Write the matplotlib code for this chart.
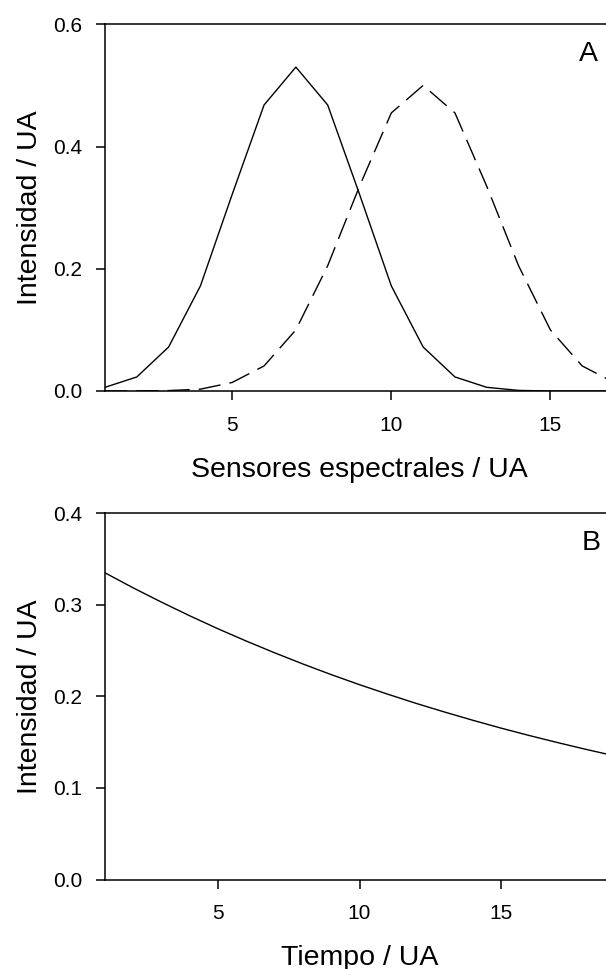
import matplotlib
matplotlib.use("Agg")
import matplotlib.pyplot as plt
from matplotlib.ticker import FormatStrFormatter

plt.rcParams['font.family'] = ['Liberation Sans', 'DejaVu Sans']

# panel A: spectral profiles
sensores = [1, 2, 3, 4, 5, 6, 7, 8, 9, 10, 11, 12, 13, 14, 15, 16, 17]
perfil_1 = [0.006, 0.023, 0.072, 0.172, 0.322, 0.468, 0.530, 0.468, 0.322,
            0.172, 0.072, 0.023, 0.006, 0.001, 0.0, 0.0, 0.0]
perfil_2 = [0.0, 0.0002, 0.0007, 0.003, 0.014, 0.041, 0.100, 0.205, 0.335,
            0.455, 0.500, 0.455, 0.335, 0.205, 0.100, 0.041, 0.014]

# panel B: time decay
tiempo = [1, 2, 3, 4, 5, 6, 7, 8, 9, 10, 11, 12, 13, 14, 15, 16, 17, 18, 19]
decaimiento = [0.335, 0.3185, 0.3029, 0.2880, 0.2738, 0.2604, 0.2476, 0.2354,
               0.2238, 0.2128, 0.2024, 0.1924, 0.1830, 0.1740, 0.1654, 0.1573,
               0.1496, 0.1422, 0.1352]

W, H = 606, 969
fig = plt.figure(figsize=(W / 100, H / 100), dpi=100)

left, right = 105 / W, 614 / W
axA = fig.add_axes([left, 1 - 391 / H, right - left, (391 - 24.3) / H])
axB = fig.add_axes([left, 1 - 879.5 / H, right - left, (879.5 - 513.3) / H])

lab_fs = 20.5
tick_fs = 15


def style(ax):
    ax.spines['right'].set_visible(False)
    for s in ['left', 'bottom', 'top']:
        ax.spines[s].set_linewidth(1.1)
    ax.tick_params(direction='out', length=6.7, width=1.1, labelsize=tick_fs)
    ax.tick_params(axis='y', pad=9.5)
    ax.tick_params(axis='x', pad=11)
    ax.yaxis.set_major_formatter(FormatStrFormatter('%.1f'))


axA.plot(sensores, perfil_1, color='black', lw=1.0)
lA, = axA.plot(sensores, perfil_2, color='black', lw=1.0)
lA.set_dashes([16, 6.5])
axA.set_xlim(1, 17)
axA.set_ylim(0, 0.6)
axA.set_xticks([5, 10, 15])
axA.set_yticks([0.0, 0.2, 0.4, 0.6])
style(axA)
axA.set_xlabel('Sensores espectrales / UA', fontsize=lab_fs)
axA.set_ylabel('Intensidad / UA', fontsize=lab_fs)
axA.xaxis.set_label_coords(0.5, -0.18)
axA.yaxis.set_label_coords(-0.122, 0.5)
axA.text(0.949, 0.92, 'A', transform=axA.transAxes, fontsize=lab_fs,
         ha='center', va='center')

axB.plot(tiempo, decaimiento, color='black', lw=1.0)
axB.set_xlim(1, 19)
axB.set_ylim(0, 0.4)
axB.set_xticks([5, 10, 15])
axB.set_yticks([0.0, 0.1, 0.2, 0.3, 0.4])
style(axB)
axB.set_xlabel('Tiempo / UA', fontsize=lab_fs)
axB.set_ylabel('Intensidad / UA', fontsize=lab_fs)
axB.xaxis.set_label_coords(0.5, -0.18)
axB.yaxis.set_label_coords(-0.122, 0.5)
axB.text(0.955, 0.92, 'B', transform=axB.transAxes, fontsize=lab_fs,
         ha='center', va='center')

fig.savefig('out.png', dpi=100)
